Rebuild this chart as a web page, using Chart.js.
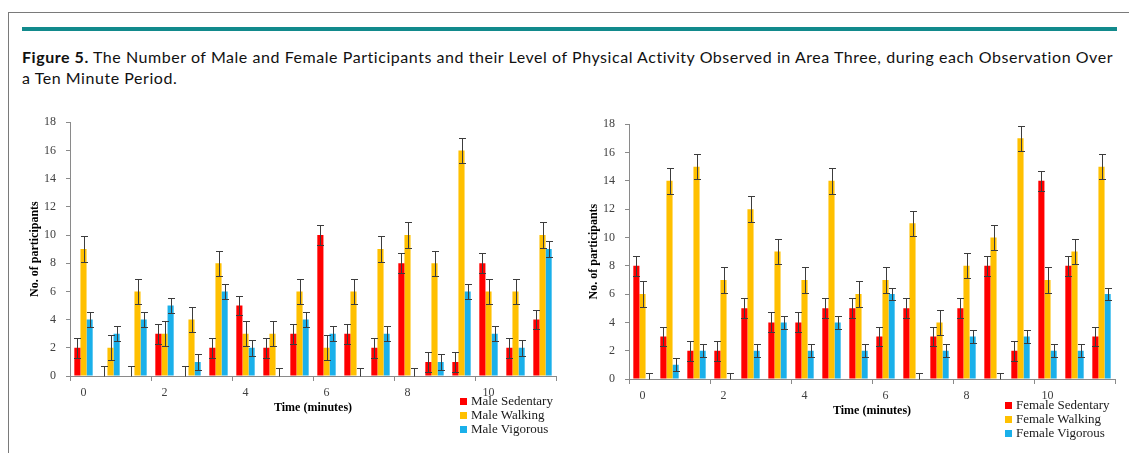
<!DOCTYPE html>
<html>
<head>
<meta charset="utf-8">
<script src="https://cdn.jsdelivr.net/npm/chart.js@4.4.1/dist/chart.umd.min.js"></script>
<style>
  body { margin: 0; width: 1129px; height: 453px; background: #fff; overflow: hidden; position: relative; }
  #frameTop { position: absolute; left: 8px; top: 12px; width: 1121px; height: 1px; background: #7a7a7a; }
  #frameLeft { position: absolute; left: 8px; top: 12px; width: 1px; height: 441px; background: #7a7a7a; }
  #rule { position: absolute; left: 22px; top: 27px; width: 1095px; height: 4px; background: #128a8c; }
  .cap { position: absolute; left: 22px; font-family: Lato, sans-serif; font-size: 16px; letter-spacing: 0.55px; color: #111; white-space: nowrap; }
  .cap b { font-weight: bold; }
  canvas { position: absolute; }
  .legend { position: absolute; font-family: "Liberation Serif", serif; font-size: 13px; color: #1a1a1a; }
  .legend div { height: 14px; line-height: 14px; white-space: nowrap; }
  .legend span { display: inline-block; width: 7px; height: 7px; margin-right: 4px; vertical-align: 0px; }
</style>
</head>
<body>
<div id="frameTop"></div>
<div id="frameLeft"></div>
<div id="rule"></div>
<div class="cap" style="top:47px"><b>Figure 5.</b> The Number of Male and Female Participants and their Level of Physical Activity Observed in Area Three, during each Observation Over</div>
<div class="cap" style="top:68px">a Ten Minute Period.</div>

<canvas id="maleChart" width="560" height="311" style="left:10px;top:105px"></canvas>
<canvas id="femaleChart" width="560" height="312" style="left:569px;top:107px"></canvas>
<div class="legend" id="maleLegend" style="left:460px;top:394px"></div>
<div class="legend" id="femaleLegend" style="left:1005px;top:398px"></div>

<script>
// x tick labels (one per observation, labelled every 2 minutes)
const TIME_LABELS = ["0", "", "", "2", "", "", "4", "", "", "6", "", "", "8", "", "", "10", "", ""];

const MALE_SEDENTARY = [2, 0, 0, 3, 0, 2, 5, 2, 3, 10, 3, 2, 8, 1, 1, 8, 2, 4];
const MALE_WALKING   = [9, 2, 6, 3, 4, 8, 3, 3, 6, 2, 6, 9, 10, 8, 16, 6, 6, 10];
const MALE_VIGOROUS  = [4, 3, 4, 5, 1, 6, 2, 0, 4, 3, 0, 3, 0, 1, 6, 3, 2, 9];

const FEMALE_SEDENTARY = [8, 3, 2, 2, 5, 4, 4, 5, 5, 3, 5, 3, 5, 8, 2, 14, 8, 3];
const FEMALE_WALKING   = [6, 14, 15, 7, 12, 9, 7, 14, 6, 7, 11, 4, 8, 10, 17, 7, 9, 15];
const FEMALE_VIGOROUS  = [0, 1, 2, 0, 2, 4, 2, 4, 2, 6, 0, 2, 3, 0, 3, 2, 2, 6];

// error bar half-lengths (sedentary, walking, vigorous)
const MALE_ERR = [0.7, 0.9, 0.55];
const FEMALE_ERR = [0.7, 0.9, 0.45];

const COLORS = ["#ff0000", "#ffc000", "#1ab0ea"];
const SERIF = "'Liberation Serif', 'Times New Roman', serif";

const errorBars = {
  id: "errorBars",
  afterDatasetsDraw(chart) {
    const ctx = chart.ctx;
    const y = chart.scales.y;
    ctx.save();
    ctx.strokeStyle = "#3c3c3c";
    ctx.lineWidth = 1;
    chart.data.datasets.forEach((ds, di) => {
      const meta = chart.getDatasetMeta(di);
      meta.data.forEach((bar, i) => {
        const v = ds.data[i];
        const x = Math.round(bar.x) + 0.5;
        const top = Math.round(y.getPixelForValue(v + ds.err)) + 0.5;
        const bot = Math.round(y.getPixelForValue(Math.max(0, v - ds.err))) + 0.5;
        ctx.beginPath();
        ctx.moveTo(x, top);
        ctx.lineTo(x, bot);
        ctx.moveTo(x - 3.5, top);
        ctx.lineTo(x + 3.5, top);
        if (v - ds.err > 0) {
          ctx.moveTo(x - 3.5, bot);
          ctx.lineTo(x + 3.5, bot);
        }
        ctx.stroke();
      });
    });
    ctx.restore();
  },
};

function makeChart(id, legendId, names, series, errs) {
  const datasets = series.map((vals, i) => ({
    label: names[i],
    data: vals,
    err: errs[i],
    backgroundColor: COLORS[i],
    borderWidth: 0,
    barPercentage: 1,
    categoryPercentage: 0.68,
  }));

  new Chart(document.getElementById(id), {
    type: "bar",
    data: { labels: TIME_LABELS, datasets },
    options: {
      responsive: false,
      animation: false,
      layout: { padding: { top: 12, right: 14, left: 0, bottom: 0 } },
      plugins: { legend: { display: false }, tooltip: { enabled: false } },
      scales: {
        x: {
          offset: true,
          grid: {
            offset: true,
            drawOnChartArea: false,
            tickLength: 5,
            color: c => (c.index === undefined || c.index % 3 === 0 ? "#8a8a8a" : "rgba(0,0,0,0)"),
          },
          border: { color: "#8a8a8a" },
          ticks: { autoSkip: false, maxRotation: 0, padding: 5, color: "#404040", font: { family: SERIF, size: 12 } },
          title: {
            display: true,
            text: "Time (minutes)",
            color: "#000",
            font: { family: SERIF, size: 12, weight: "bold" },
            padding: { top: 0, bottom: 1 },
          },
          afterFit: s => { s.height = 40; },
        },
        y: {
          min: 0,
          max: 18,
          ticks: { stepSize: 2, padding: 10, color: "#404040", font: { family: SERIF, size: 12 } },
          grid: { drawOnChartArea: false, tickLength: 4, color: "#8a8a8a" },
          border: { color: "#8a8a8a" },
          title: {
            display: true,
            text: "No. of participants",
            color: "#000",
            font: { family: SERIF, size: 12, weight: "bold" },
            padding: { top: 18, bottom: 0 },
          },
          afterFit: s => { s.width = 60; },
        },
      },
    },
    plugins: [errorBars],
  });

  // simple legend built from the datasets
  const leg = document.getElementById(legendId);
  datasets.forEach(ds => {
    const row = document.createElement("div");
    const sw = document.createElement("span");
    sw.style.background = ds.backgroundColor;
    row.appendChild(sw);
    row.appendChild(document.createTextNode(ds.label));
    leg.appendChild(row);
  });
}

makeChart("maleChart", "maleLegend",
  ["Male Sedentary", "Male Walking", "Male Vigorous"],
  [MALE_SEDENTARY, MALE_WALKING, MALE_VIGOROUS], MALE_ERR);

makeChart("femaleChart", "femaleLegend",
  ["Female Sedentary", "Female Walking", "Female Vigorous"],
  [FEMALE_SEDENTARY, FEMALE_WALKING, FEMALE_VIGOROUS], FEMALE_ERR);
</script>
</body>
</html>
